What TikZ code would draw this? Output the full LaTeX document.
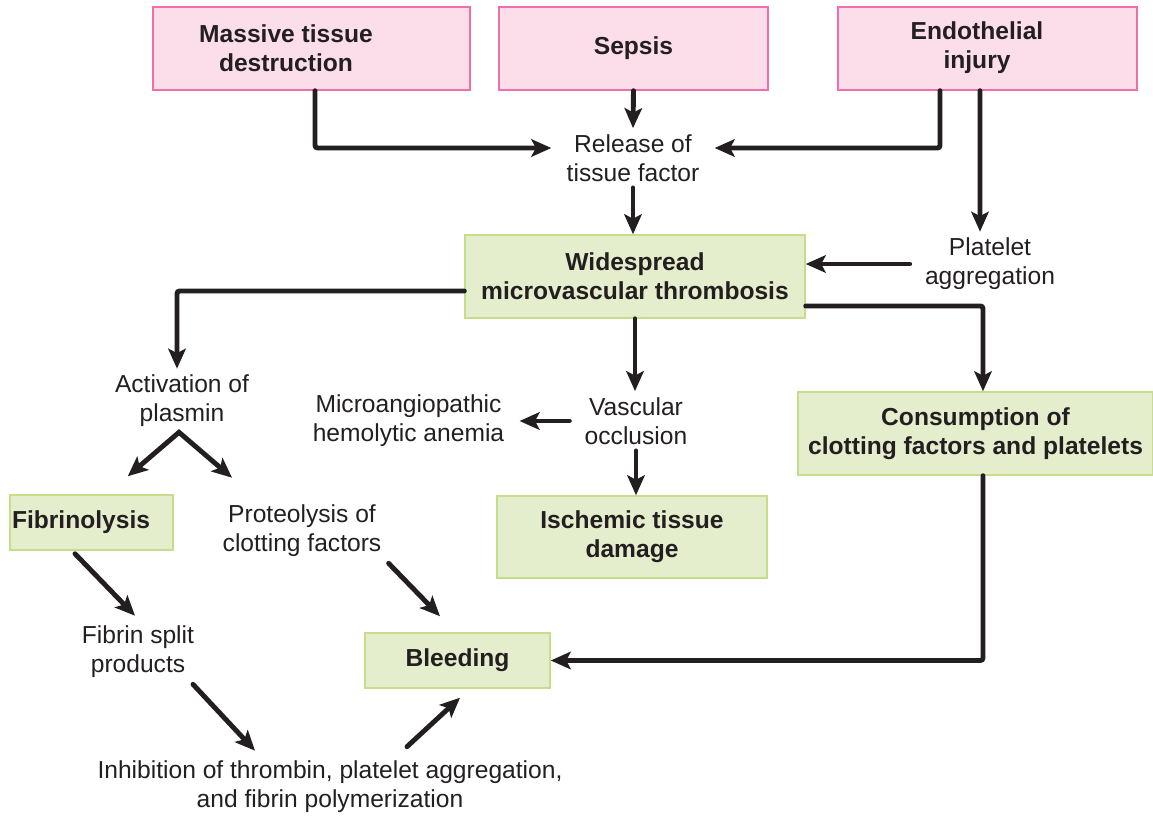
\documentclass[tikz,border=0pt]{standalone}
\usepackage{fontspec}
\setmainfont{Liberation Sans}
\usetikzlibrary{arrows.meta}
\definecolor{pinkfill}{RGB}{251,222,234}
\definecolor{pinkline}{RGB}{240,110,170}
\definecolor{greenfill}{RGB}{228,238,205}
\definecolor{greenline}{RGB}{198,222,140}
\definecolor{ink}{RGB}{35,31,32}

\begin{document}
\begin{tikzpicture}[x=0.02cm, y=-0.02cm, >={Stealth[length=0.4cm,width=0.35cm,inset=0.09cm]}, %1 单位 = 1 像素, y 向下
    every node/.style={font=\fontsize{14}{16.5}\selectfont, text=ink},
    txt/.style={align=center, inner xsep=0.3cm, inner ysep=0.12cm},
    bold/.style={align=center, font=\fontsize{14}{16.5}\selectfont\bfseries},
    pinkbox/.style={draw=pinkline, fill=pinkfill, line width=0.85pt, minimum height=1.66cm, bold},
    greenbox/.style={draw=greenline, fill=greenfill, line width=0.85pt, bold},
    arr/.style={->, line width=2.8pt, draw=ink, line cap=round, rounded corners=1.5pt}]
    \useasboundingbox (0, 0) rectangle (1153, 815);
    %顶部三个原因
    \node[pinkbox, minimum width=6.34cm] (mtd) at (311.5, 48.5){};
    \node[bold] (mtdtext) at (286, 48){Massive tissue\\destruction};
    \node[pinkbox, minimum width=5.38cm] (sep) at (633.5, 48.5){Sepsis};
    \node[pinkbox, minimum width=5.98cm] (end) at (987.5, 48.5){};
    \node[bold] (endtext) at (977, 48){Endothelial\\injury};
    %中间
    \node[txt] (rel) at (633, 158){Release of\\tissue factor};
    \node[txt] (plt) at (990, 264){Platelet\\aggregation};
    \node[greenbox, minimum width=6.8cm, minimum height=1.66cm] (wmt) at (635, 276.5){Widespread\\microvascular thrombosis};
    \node[txt] (act) at (182, 401){Activation of\\plasmin};
    \node[txt] (vas) at (636, 421){Vascular\\occlusion};
    \node[txt] (mic) at (408.5, 421){Microangiopathic\\hemolytic anemia};
    \node[greenbox, minimum width=7.1cm, minimum height=1.66cm] (con) at (975.5, 433.5){Consumption of\\clotting factors and platelets};
    \node[greenbox, minimum width=5.4cm, minimum height=1.64cm] (isc) at (632, 537){Ischemic tissue\\damage};
    %底部
    \node[greenbox, text width=3.18cm, inner xsep=0.04cm, minimum height=1.1cm, align=left] (fib) at (91.5, 522.5){\raisebox{-2pt}{Fibrinolysis}};
    \node[txt] (pro) at (302, 531){Proteolysis of\\clotting factors};
    \node[txt] (fsp) at (138, 652){Fibrin split\\products};
    \node[greenbox, minimum width=3.7cm, minimum height=1.1cm] (ble) at (457.5, 660.5){\raisebox{-2pt}{Bleeding}};
    \node[txt] (inh) at (330, 787){Inhibition of thrombin, platelet aggregation,\\and fibrin polymerization};
    %箭头
    \draw[arr] ([xshift=0.07cm]mtd.south) |- ([yshift=0.2cm]rel.west);
    \draw[arr] (sep.south) -- (rel.north);
    \draw[arr] ([xshift=-0.95cm]end.south) |- ([yshift=0.2cm]rel.east);
    \draw[arr] ([xshift=-0.15cm]end.south) -- ([xshift=-0.2cm]plt.north);
    \draw[arr] (rel.south) -- (rel.south |- wmt.north);
    \draw[arr] (plt.west) -- (plt.west -| wmt.east);
    \draw[arr] ([yshift=-0.29cm]wmt.west) -| ([xshift=-0.1cm]act.north);
    \draw[arr] (wmt.south) -- (wmt.south |- vas.north);
    \draw[arr] ([yshift=-0.59cm]wmt.east) -| ([xshift=0.15cm]con.north);
    \draw[arr] (vas.west) -- (vas.west -| mic.east);
    \draw[arr] (vas.south) -- (vas.south |- isc.north);
    \draw[arr, <->, rounded corners=0pt, line cap=butt] ([xshift=-0.92cm, yshift=0.36cm]fib.north east) -- ([xshift=-0.06cm, yshift=0.02cm]act.south) -- ([xshift=-1.4cm, yshift=0.42cm]pro.north); %两支箭头共用一个顶点
    \draw[arr] ([xshift=-0.33cm, yshift=-0.06cm]fib.south) -- ([xshift=-0.06cm, yshift=0.08cm]fsp.north);
    \draw[arr] ([xshift=-0.16cm]pro.south east) -- ([xshift=-0.35cm, yshift=0.32cm]ble.north);
    \draw[arr] ([xshift=1.1cm]fsp.south) -- ([xshift=-1.5cm, yshift=0.08cm]inh.north);
    \draw[arr] ([xshift=1.54cm, yshift=0.16cm]inh.north) -- ([xshift=0.05cm, yshift=-0.18cm]ble.south);
    \draw[arr] ([xshift=0.15cm]con.south) |- (ble.east);
\end{tikzpicture}
\end{document}
